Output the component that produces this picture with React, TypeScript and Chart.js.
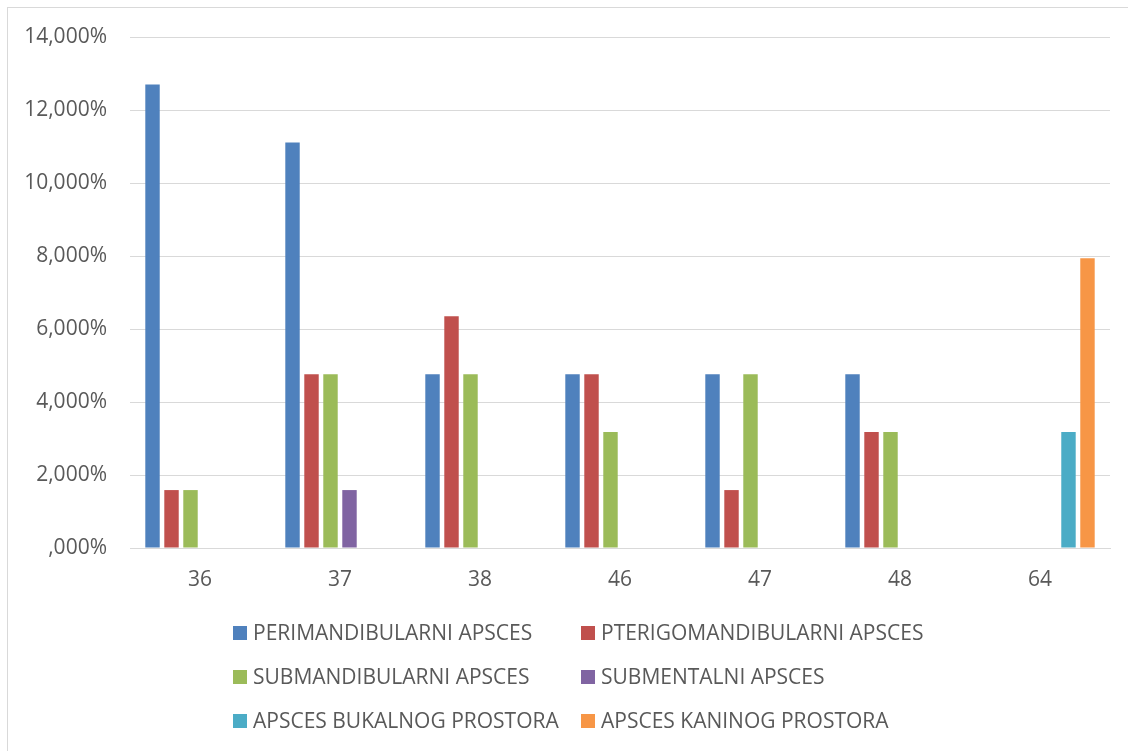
import React, { useEffect, useRef } from "react";
import { Chart, registerables } from "chart.js";

Chart.register(...registerables);

const categories = ["36", "37", "38", "46", "47", "48", "64"];
const perimandibularni = [12.698, 11.111, 4.762, 4.762, 4.762, 4.762, 0];
const pterigomandibularni = [1.587, 4.762, 6.349, 4.762, 1.587, 3.175, 0];
const submandibularni = [1.587, 4.762, 4.762, 3.175, 4.762, 3.175, 0];
const submentalni = [0, 1.587, 0, 0, 0, 0, 0];
const bukalnog = [0, 0, 0, 0, 0, 0, 3.175];
const kaninog = [0, 0, 0, 0, 0, 0, 7.937];
const seriesNames = [
  "PERIMANDIBULARNI APSCES",
  "PTERIGOMANDIBULARNI APSCES",
  "SUBMANDIBULARNI APSCES",
  "SUBMENTALNI APSCES",
  "APSCES BUKALNOG PROSTORA",
  "APSCES KANINOG PROSTORA",
];
const seriesColors = ["#4F81BD", "#C0504D", "#9BBB59", "#8064A2", "#4BACC6", "#F79646"];
const yTicks = [0, 2, 4, 6, 8, 10, 12, 14];

const FONT = "'Open Sans', 'Noto Sans', sans-serif";
const FS = 21;

const frameAndLegend = {
  id: "frameAndLegend",
  afterDraw(chart: any) {
    const ctx = chart.ctx;
    ctx.save();
    ctx.strokeStyle = "#D9D9D9";
    ctx.lineWidth = 1;
    ctx.strokeRect(7.5, 7.5, 1300, 1000);
    const cols = [233, 581];
    const rows = [633, 677, 721];
    ctx.font = `${FS}px ${FONT}`;
    ctx.textBaseline = "middle";
    ctx.textAlign = "left";
    chart.data.datasets.forEach((ds: any, i: number) => {
      const x = cols[i % 2];
      const y = rows[Math.floor(i / 2)];
      ctx.fillStyle = ds.backgroundColor;
      ctx.fillRect(x, y - 7, 14, 14);
      ctx.fillStyle = "#595959";
      ctx.fillText(ds.label, x + 20, y + 1);
    });
    ctx.restore();
  },
};

export default function App() {
  const ref = useRef<HTMLCanvasElement>(null);
  useEffect(() => {
    if (!ref.current) return;
    const data = [perimandibularni, pterigomandibularni, submandibularni, submentalni, bukalnog, kaninog];
    const chart = new Chart(ref.current, {
      type: "bar",
      data: {
        labels: categories,
        datasets: data.map((d, i) => ({
          label: seriesNames[i],
          data: d,
          backgroundColor: seriesColors[i],
          categoryPercentage: 0.814,
          barPercentage: 0.76,
        })),
      },
      options: {
        animation: false,
        responsive: false,
        layout: { padding: { top: 37, right: 18, bottom: 0, left: 0 } },
        plugins: { legend: { display: false }, tooltip: { enabled: false } },
        scales: {
          x: {
            grid: { display: false, drawTicks: false },
            border: { color: "#D9D9D9", width: 1 },
            ticks: { color: "#595959", font: { family: FONT, size: FS }, padding: 19 },
            afterFit: (s: any) => { s.height = 203; },
          },
          y: {
            min: 0,
            max: 14,
            afterBuildTicks: (s: any) => { s.ticks = yTicks.map((v) => ({ value: v })); },
            grid: { color: "#D9D9D9", drawTicks: false },
            border: { display: false },
            ticks: {
              color: "#595959",
              font: { family: FONT, size: FS },
              padding: 23,
              callback: (v: any) => (v === 0 ? ",000%" : `${v},000%`),
            },
            afterFit: (s: any) => { s.width = 130; },
          },
        },
      },
      plugins: [frameAndLegend],
    });
    return () => chart.destroy();
  }, []);
  return (
    <div style={{ position: "fixed", left: 0, top: 0, width: 1128, height: 751, background: "#fff" }}>
      <canvas ref={ref} width={1128} height={751} />
    </div>
  );
}
